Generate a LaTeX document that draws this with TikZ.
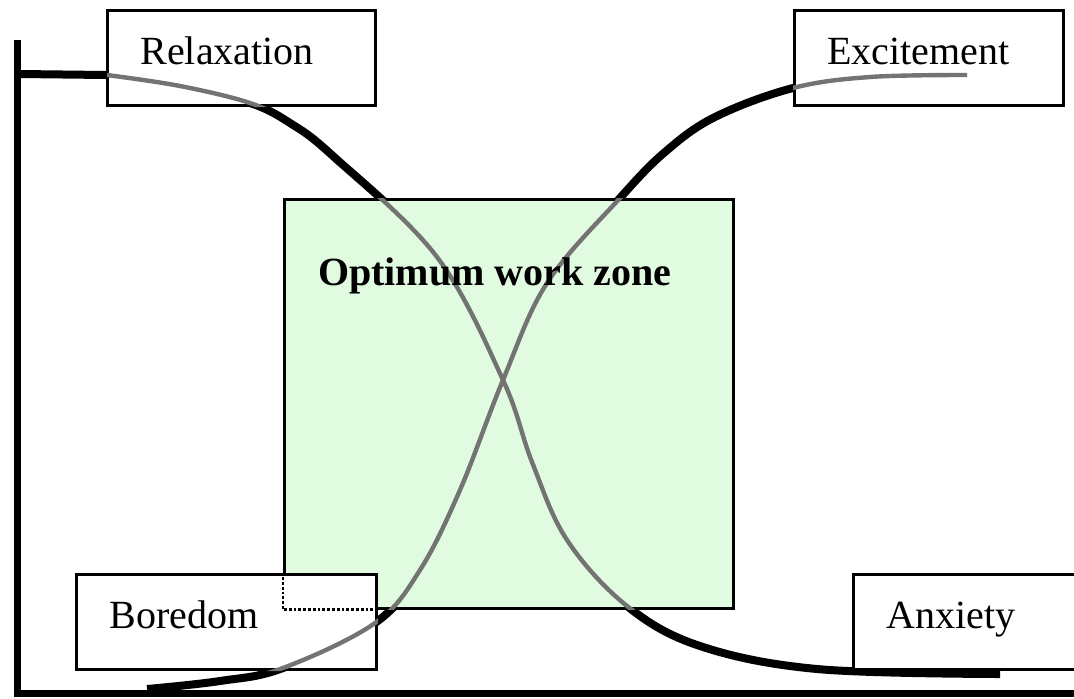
\documentclass[tikz,border=0pt]{standalone}
\usepackage{fontspec}
\setmainfont{Liberation Serif}
\definecolor{zonegreen}{RGB}{224,251,224}

\newcommand{\relaxpath}{plot[smooth, tension=0.6] coordinates {(107,75) (180,86) (250,103) (290,123) (333,156) (437,257) (503,380) (532,462) (567,540) (627,606) (700,646) (817,669) (1000,674)}}
\newcommand{\excitepath}{plot[smooth, tension=0.6] coordinates {(147,689) (220,681) (283,668) (375,623) (420,570) (460,490) (503,380) (547,283) (620,198) (665,152) (715,117) (793,88) (870,77) (967,75)}}

\begin{document}
\begin{tikzpicture}[
    x=0.5pt, y=-0.5pt,
    font=\fontsize{20}{24}\selectfont,
    axis/.style={line width=3.5pt},
    curve/.style={line width=4pt, line join=round},
    faint/.style={line width=2.2pt, black!55},
    tag/.style={rectangle, draw=black, line width=1.5pt, fill=white, anchor=north west, align=left, inner xsep=16.5pt, inner ysep=0pt, text depth=7pt, minimum height=47.5pt},
    zone/.style={rectangle, draw=black, line width=1.4pt, fill=zonegreen, anchor=north west, inner sep=0pt, minimum width=224.5pt, minimum height=204.5pt},
]
    \useasboundingbox (0,0) rectangle (1074,698);

    % Axes
    \coordinate (top) at (17,40);
    \coordinate (corner) at (17,693);
    \coordinate (end) at (1074,693);
    \draw[axis] (top) -- (corner) -- (end);

    % Curves
    \coordinate (start) at (20,74);
    \draw[curve] (start) -- (107,75) \relaxpath;
    \draw[curve] \excitepath;

    % Zone
    \node[zone] (zone) at (283,198) {};
    \begin{scope}
        \clip (zone.south west) rectangle (zone.north east);
        \draw[faint] \relaxpath;
        \draw[faint] \excitepath;
    \end{scope}

    % Labels
    \node[tag, text width=101pt] (relax) at (106,9) {Relaxation};
    \node[tag, text width=101.5pt] (excite) at (793,9) {Excitement};
    \node[tag, text width=117pt] (bored) at (75,573) {Boredom};
    \node[tag, text width=87pt] (anx) at (852,573) {Anxiety};

    \begin{scope}
        \clip (relax.south west) rectangle (relax.north east)
              (excite.south west) rectangle (excite.north east)
              (bored.south west) rectangle (bored.north east);
        \draw[faint] \relaxpath;
        \draw[faint] \excitepath;
    \end{scope}
    \begin{scope}
        \clip (bored.south west) rectangle (bored.north east);
        \draw[densely dotted, line width=1.4pt] (zone.north west) |- (zone.south east);
    \end{scope}

    \node[anchor=base west, font=\fontsize{20}{24}\selectfont\bfseries] (title) at (311,285) {Optimum work zone};
\end{tikzpicture}
\end{document}
